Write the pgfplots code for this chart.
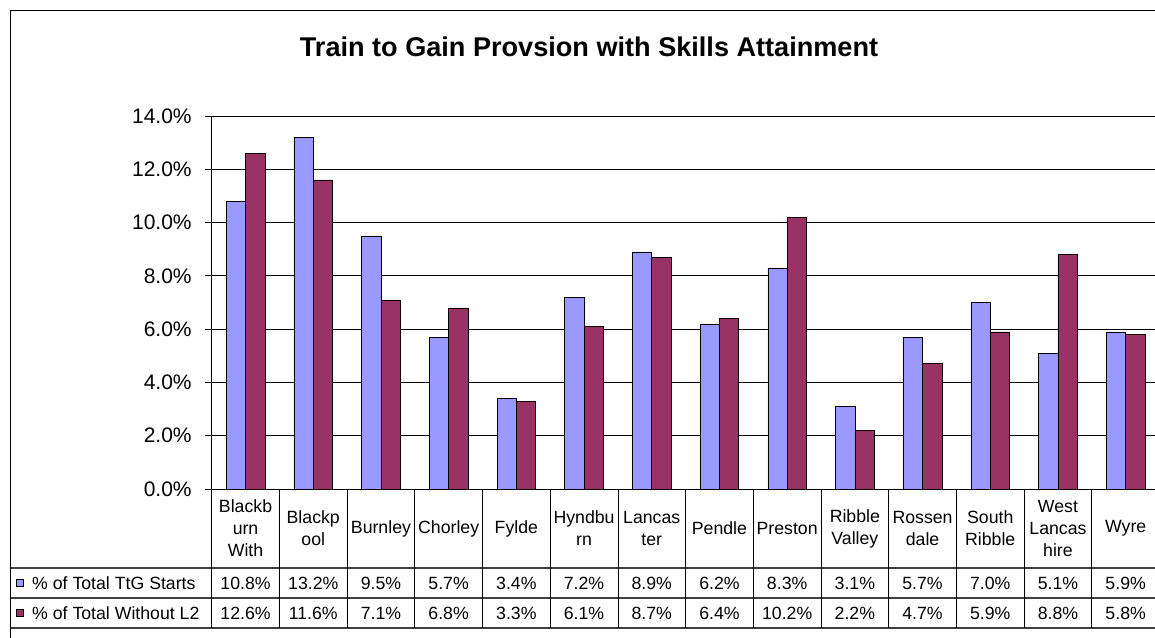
\documentclass[border=0pt]{standalone}
\usepackage{pgfplots}
\pgfplotsset{compat=1.18}
\usepackage{fontspec}
\setmainfont{Liberation Sans}
\definecolor{tgblue}{HTML}{9999FF}
\definecolor{tgred}{HTML}{993366}
\begin{document}
\begin{tikzpicture}[x=1pt,y=1pt]
\path[use as bounding box] (0,0) rectangle (1155,637);
\clip (0,0) rectangle (1155,637);
% outer frame
\draw[black, line width=1.6pt] (10.5,-20) -- (10.5,626.5) -- (1180,626.5);
% title
\node[font=\fontsize{27.1}{31}\selectfont\bfseries] at (589,590) {Train to Gain Provsion with Skills Attainment};
\begin{axis}[
 at={(211.7pt,148pt)}, anchor=south west, scale only axis,
 width=947.8pt, height=373pt,
 xmin=-0.5, xmax=13.5, ymin=0, ymax=14,
 ybar=0pt, bar width=19.3pt,
 axis x line*=bottom, axis y line*=left,
 xtick=\empty,
 ytick={0,2,...,14},
 yticklabel={\pgfmathprintnumber[fixed,fixed zerofill,precision=1]{\tick}\%},
 ymajorgrids, grid style={black, line width=0.8pt},
 tick align=outside, major tick length=7pt,
 tick style={black, line width=0.8pt},
 axis line style={black, line width=0.8pt},
 y tick label style={font=\fontsize{21}{24}\selectfont, xshift=-9.5pt},
 /pgf/number format/assume math mode=true,
 clip=false,
]
\addplot[fill=tgblue, draw=black, line width=0.6pt] coordinates {
(0,10.8) (1,13.2) (2,9.5) (3,5.7) (4,3.4) (5,7.2) (6,8.9) (7,6.2) (8,8.3) (9,3.1) (10,5.7) (11,7.0) (12,5.1) (13,5.9)};
\addplot[fill=tgred, draw=black, line width=0.6pt] coordinates {
(0,12.6) (1,11.6) (2,7.1) (3,6.8) (4,3.3) (5,6.1) (6,8.7) (7,6.4) (8,10.2) (9,2.2) (10,4.7) (11,5.9) (12,8.8) (13,5.8)};
\end{axis}
% data table
\draw[black!75, line width=1.2pt] (11,69) -- (1170,69) (11,39) -- (1170,39) (11,9) -- (1170,9);
\foreach \k in {0,...,14} {
  \draw[black, line width=0.8pt] ({211.7+67.7*\k},148) -- ({211.7+67.7*\k},9);
}
\foreach \lab [count=\i from 0] in {Blackb\\urn\\With, Blackp\\ool, Burnley, Chorley, Fylde, Hyndbu\\rn, Lancas\\ter, Pendle, Preston, Ribble\\Valley, Rossen\\dale, South\\Ribble, West\\Lancas\\hire, Wyre} {
  \node[font=\fontsize{17.7}{22}\selectfont, align=center, inner sep=0pt] at ({211.7+67.7*(\i+0.5)},108.5) {\lab};
}
\foreach \v [count=\i from 0] in {10.8,13.2,9.5,5.7,3.4,7.2,8.9,6.2,8.3,3.1,5.7,7.0,5.1,5.9} {
  \node[font=\fontsize{17.7}{22}\selectfont, inner sep=0pt] at ({211.7+67.7*(\i+0.5)},54) {\v\%};
}
\foreach \v [count=\i from 0] in {12.6,11.6,7.1,6.8,3.3,6.1,8.7,6.4,10.2,2.2,4.7,5.9,8.8,5.8} {
  \node[font=\fontsize{17.7}{22}\selectfont, inner sep=0pt] at ({211.7+67.7*(\i+0.5)},24) {\v\%};
}
% legend keys
\draw[fill=tgblue, draw=black, line width=0.6pt] (16,50.5) rectangle (23,57.5);
\draw[fill=tgred, draw=black, line width=0.6pt] (16,20.5) rectangle (23,27.5);
\node[font=\fontsize{17.7}{22}\selectfont, anchor=west, inner sep=0pt] at (32,54) {\% of Total TtG Starts};
\node[font=\fontsize{17.7}{22}\selectfont, anchor=west, inner sep=0pt] at (32,24) {\% of Total Without L2};
\end{tikzpicture}
\end{document}
